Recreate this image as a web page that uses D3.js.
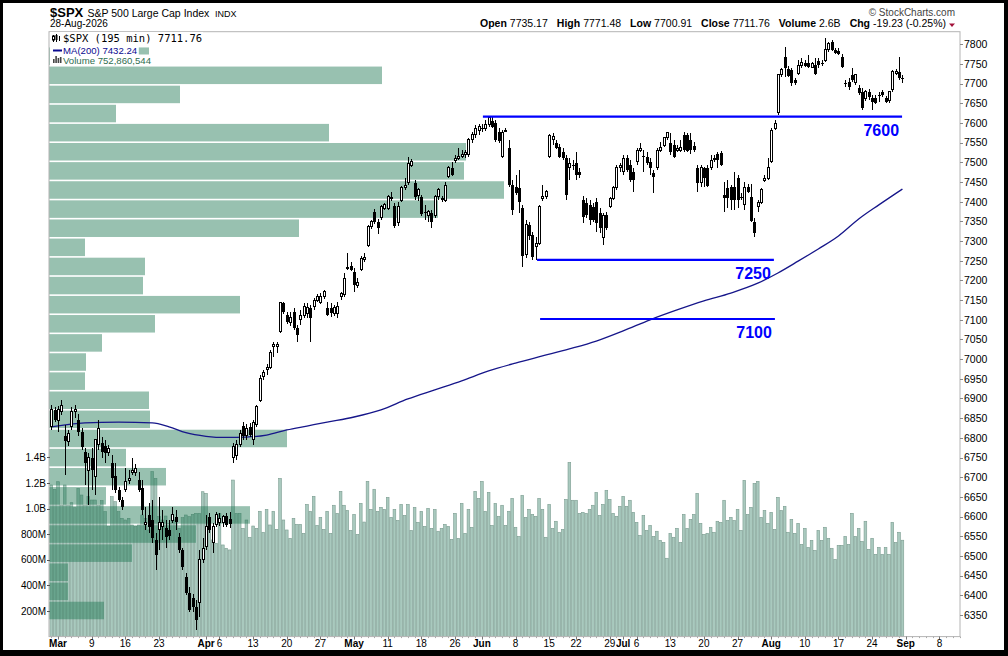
<!DOCTYPE html>
<html>
<head>
<meta charset="utf-8">
<script src="https://cdn.jsdelivr.net/npm/d3@7"></script>
<style>
  body { margin: 0; background: #000; }
  svg { display: block; }
  text { font-family: "Liberation Sans", Arial, sans-serif; }
</style>
</head>
<body>
<div id="chart"></div>
<script>
// ---- data ----
var firstDay = "2026-02-27";
var axisEndDay = "2026-09-11";
var holidays = ["2026-04-03", "2026-05-25", "2026-06-19", "2026-07-03", "2026-09-07"];
var barsPerDay = 2;   // 195 minute bars

// open, high, low, close per bar, first bar = 27-Feb
var ohlc = [
  [6828,6884,6820,6873],[6871,6879,6840,6845],[6845,6881,6815,6871],[6866,6896,6858,6881],
  [6805,6833,6706,6792],[6790,6820,6779,6812],[6828,6879,6820,6866],[6866,6884,6851,6871],
  [6845,6861,6805,6815],[6815,6825,6769,6777],[6764,6774,6680,6736],[6718,6762,6630,6749],
  [6749,6774,6668,6718],[6701,6797,6655,6795],[6782,6845,6769,6823],[6787,6802,6749,6764],
  [6779,6795,6736,6762],[6762,6782,6754,6772],[6736,6757,6668,6698],[6703,6736,6660,6668],
  [6668,6675,6637,6642],[6642,6650,6617,6624],[6670,6724,6663,6688],[6691,6719,6683,6696],
  [6711,6749,6706,6716],[6713,6734,6703,6721],[6693,6713,6663,6668],[6673,6693,6604,6617],
  [6579,6624,6566,6584],[6604,6635,6558,6574],[6591,6642,6533,6546],[6541,6558,6464,6503],
  [6566,6650,6515,6584],[6574,6617,6541,6584],[6571,6591,6520,6548],[6566,6591,6541,6551],
  [6591,6624,6584,6604],[6599,6617,6566,6586],[6548,6558,6508,6515],[6515,6520,6464,6472],
  [6447,6457,6401,6406],[6406,6421,6358,6363],[6393,6403,6358,6371],[6370,6388,6312,6337],
  [6381,6515,6345,6490],[6490,6546,6482,6520],[6523,6604,6515,6574],[6599,6609,6558,6566],
  [6533,6584,6508,6574],[6579,6612,6574,6604],[6586,6609,6576,6596],[6584,6604,6574,6599],
  [6602,6609,6574,6579],[6594,6612,6571,6581],[6751,6787,6736,6777],[6756,6795,6744,6782],
  [6782,6820,6777,6812],[6830,6840,6795,6805],[6807,6835,6795,6825],[6828,6838,6802,6807],
  [6795,6845,6782,6838],[6833,6884,6828,6879],[6896,6960,6891,6952],[6955,6973,6947,6965],
  [6973,6988,6960,6980],[6980,7023,6975,7018],[7031,7044,7006,7036],[7033,7044,7016,7038],
  [7069,7145,7067,7143],[7143,7145,7115,7120],[7112,7120,7089,7094],[7094,7120,7084,7107],
  [7120,7130,7074,7079],[7079,7087,7044,7061],[7100,7125,7087,7112],[7112,7143,7105,7133],
  [7117,7143,7105,7130],[7130,7138,7044,7105],[7133,7156,7125,7150],[7150,7166,7145,7160],
  [7145,7168,7140,7160],[7158,7176,7153,7171],[7130,7145,7110,7112],[7130,7143,7107,7117],
  [7117,7138,7110,7130],[7117,7145,7105,7133],[7158,7171,7150,7166],[7163,7219,7158,7206],
  [7232,7270,7227,7234],[7237,7247,7224,7227],[7222,7232,7171,7188],[7188,7206,7181,7196],
  [7229,7262,7224,7255],[7252,7270,7247,7257],[7290,7341,7285,7336],[7336,7354,7331,7349],
  [7374,7382,7343,7349],[7349,7356,7318,7333],[7359,7392,7354,7387],[7384,7397,7379,7392],
  [7384,7417,7379,7412],[7412,7425,7402,7407],[7389,7396,7333,7338],[7346,7399,7338,7389],
  [7404,7440,7399,7435],[7435,7460,7430,7442],[7448,7514,7442,7498],[7493,7508,7488,7501],
  [7448,7455,7404,7412],[7415,7435,7402,7430],[7412,7417,7363,7368],[7374,7392,7354,7371],
  [7366,7379,7349,7374],[7371,7379,7333,7349],[7366,7417,7359,7412],[7412,7435,7404,7430],
  [7409,7415,7399,7404],[7404,7450,7399,7442],[7465,7491,7460,7486],[7486,7501,7465,7468],
  [7506,7519,7498,7511],[7511,7536,7506,7516],[7516,7531,7511,7521],[7519,7531,7511,7524],
  [7519,7562,7514,7557],[7557,7577,7549,7570],[7570,7595,7562,7587],[7582,7597,7570,7592],
  [7587,7597,7577,7585],[7585,7608,7580,7597],[7595,7618,7590,7613],[7605,7615,7587,7590],
  [7600,7608,7552,7557],[7577,7587,7549,7554],[7514,7582,7511,7577],[7580,7587,7577,7582],
  [7536,7557,7437,7442],[7442,7455,7366,7379],[7437,7468,7417,7422],[7435,7481,7371,7399],
  [7384,7392,7235,7262],[7265,7354,7257,7341],[7341,7349,7303,7313],[7315,7323,7252,7260],
  [7285,7310,7252,7295],[7295,7392,7290,7387],[7407,7442,7402,7412],[7412,7430,7407,7427],
  [7514,7572,7511,7568],[7557,7575,7544,7565],[7549,7557,7534,7536],[7539,7547,7511,7514],
  [7526,7536,7506,7511],[7511,7519,7404,7417],[7486,7511,7455,7498],[7493,7506,7481,7491],
  [7498,7526,7455,7468],[7476,7486,7460,7468],[7404,7415,7346,7361],[7397,7409,7359,7366],
  [7392,7404,7341,7354],[7387,7397,7349,7354],[7399,7409,7323,7346],[7371,7384,7321,7333],
  [7310,7371,7290,7366],[7366,7374,7328,7333],[7389,7412,7384,7409],[7409,7440,7404,7437],
  [7435,7493,7430,7488],[7486,7498,7476,7493],[7476,7519,7468,7511],[7511,7519,7476,7481],
  [7493,7506,7450,7455],[7476,7486,7425,7455],[7501,7536,7493,7531],[7531,7549,7526,7536],
  [7516,7531,7476,7514],[7514,7526,7493,7498],[7501,7511,7468,7486],[7473,7481,7422,7463],
  [7488,7536,7481,7531],[7531,7552,7526,7539],[7544,7564,7539,7562],[7562,7577,7557,7575],
  [7549,7575,7519,7526],[7544,7557,7511,7514],[7531,7544,7526,7536],[7531,7557,7526,7539],
  [7570,7577,7526,7531],[7570,7575,7526,7529],[7557,7575,7521,7531],[7542,7552,7526,7531],
  [7486,7493,7425,7448],[7448,7493,7437,7486],[7486,7488,7437,7460],[7486,7493,7437,7440],
  [7486,7519,7481,7506],[7511,7519,7501,7506],[7521,7526,7486,7506],[7524,7529,7491,7493],
  [7417,7450,7374,7409],[7435,7455,7384,7409],[7437,7442,7379,7404],[7437,7476,7379,7404],
  [7460,7468,7384,7404],[7412,7422,7404,7409],[7392,7450,7379,7437],[7437,7445,7422,7425],
  [7412,7445,7349,7351],[7349,7359,7310,7321],[7389,7404,7374,7399],[7399,7435,7394,7432],
  [7455,7468,7450,7460],[7460,7511,7455,7486],[7501,7587,7498,7582],[7587,7608,7582,7600],
  [7626,7724,7620,7722],[7722,7740,7717,7735],[7768,7793,7717,7740],[7737,7745,7717,7719],
  [7735,7740,7694,7702],[7709,7714,7697,7702],[7727,7760,7722,7747],[7745,7765,7740,7755],
  [7752,7760,7742,7745],[7752,7773,7740,7742],[7742,7755,7740,7752],[7747,7765,7722,7724],
  [7757,7765,7740,7747],[7752,7760,7745,7750],[7760,7816,7755,7786],[7786,7806,7780,7801],
  [7806,7811,7783,7786],[7786,7791,7775,7778],[7783,7791,7773,7775],[7768,7775,7740,7742],
  [7702,7709,7692,7699],[7704,7714,7684,7692],[7722,7740,7704,7709],[7704,7724,7697,7722],
  [7689,7697,7671,7676],[7679,7689,7633,7638],[7661,7684,7656,7679],[7679,7686,7658,7666],
  [7664,7671,7633,7653],[7664,7671,7648,7651],[7671,7679,7653,7668],[7679,7684,7666,7671],
  [7664,7669,7651,7653],[7658,7681,7651,7679],[7684,7735,7679,7730],[7727,7737,7722,7732],
  [7730,7768,7709,7714],[7714,7722,7700.91,7711.76]
];

// volume per bar, millions of shares
var volumeM = [
  1184,1150,1210,1028,1184,1028,1046,1007,1158,1106,1028,1093,1067,1067,1028,1062,976,859,1093,1054,
  976,924,911,924,872,859,872,950,924,833,1289,1236,937,911,942,885,950,911,846,929,
  950,937,955,963,963,1132,1119,932,755,729,963,716,690,677,1223,963,
  963,846,911,776,864,846,979,815,994,872,979,838,1236,911,833,768,924,877,877,807,
  1033,979,1096,869,932,838,979,807,1026,963,1135,1026,986,830,955,799,1041,895,1213,994,
  1151,979,1010,994,1088,932,994,908,1033,947,1033,830,1010,893,979,861,1002,846,994,823,
  846,877,861,760,963,768,1041,807,994,854,1135,1080,1213,979,1127,869,1041,940,1026,869,
  979,1080,854,783,1104,932,994,955,940,1080,994,776,1033,846,901,815,838,1072,1361,1065,1065,
  963,971,963,994,1026,1127,947,1033,1143,1072,963,940,1018,1096,1018,1065,971,893,791,947,
  830,869,783,823,752,736,612,807,776,846,736,955,846,916,955,1119,885,799,807,854,
  815,901,893,1065,908,932,908,994,830,1221,955,1010,1197,1213,932,986,885,971,838,1088,
  986,1018,815,916,807,885,721,846,697,752,674,830,752,854,768,690,604,713,713,783,
  721,963,783,846,744,901,682,768,643,697,643,697,643,893,736,815,753
];

// MA(200) read at selected bars
var maBar   = [0, 10, 20, 30, 35, 40, 46, 52, 58, 64, 70, 76, 82, 90, 98, 106, 114, 122, 130, 138, 146, 154, 162, 170, 178, 186, 194, 202, 210, 216, 222, 228, 234, 240, 246, 253];
var maValue = [6828, 6838, 6840, 6838, 6828, 6813, 6804, 6801, 6802, 6807, 6820, 6830, 6840, 6853, 6871, 6899, 6922, 6945, 6970, 6990, 7008, 7026, 7046, 7072, 7100, 7125, 7148, 7168, 7193, 7219, 7249, 7280, 7313, 7356, 7392, 7432.24];

// volume by price, top zone first (billions of shares)
var vbpRange = [6335, 7792];
var vbpVolumeB = [10.0, 33.3, 13.1, 6.7, 28.0, 41.7, 41.5, 45.5, 38.9, 25.0, 3.6, 9.6, 9.4, 19.1, 10.6,
                  5.3, 3.7, 3.6, 10.0, 10.1, 23.8, 7.7, 11.7, 5.7, 20.1, 14.7, 8.3, 1.9, 1.9, 5.5];

var priceTicks = d3.range(6350, 7801, 50);
var volumeTicks = [200, 400, 600, 800, 1000, 1200, 1400];
var volumeTickLabels = ["200M", "400M", "600M", "800M", "1.0B", "1.2B", "1.4B"];
var dateTicks = [
  ["2026-03-02","Mar",true],["2026-03-09","9",false],["2026-03-16","16",false],["2026-03-23","23",false],
  ["2026-04-01","Apr",true],["2026-04-06","6",false],["2026-04-13","13",false],["2026-04-20","20",false],
  ["2026-04-27","27",false],["2026-05-04","May",true],["2026-05-11","11",false],["2026-05-18","18",false],
  ["2026-05-26","26",false],["2026-06-01","Jun",true],["2026-06-08","8",false],["2026-06-15","15",false],
  ["2026-06-22","22",false],["2026-06-29","29",false],["2026-07-01","Jul",true],["2026-07-06","6",false],
  ["2026-07-13","13",false],["2026-07-20","20",false],["2026-07-27","27",false],["2026-08-03","Aug",true],
  ["2026-08-10","10",false],["2026-08-17","17",false],["2026-08-24","24",false],["2026-08-31","Sep",true],
  ["2026-09-08","8",false]
];

// hand drawn levels: value, from bar, to bar
var levels = [
  {label: "7600", value: 7616, from: 128.3, to: 252.9},
  {label: "7250", value: 7252, from: 144.4, to: 214.8},
  {label: "7100", value: 7102, from: 145.3, to: 215.1}
];

var quote = [["Open","7735.17"],["High","7771.48"],["Low","7700.91"],["Close","7711.76"],["Volume","2.6B"],["Chg","-19.23 (-0.25%)"]];

// ---- chart ----
var W = 1008, H = 656;
var plot = {left: 49, right: 960, top: 31.7, bottom: 636.6};

var svg = d3.select("#chart").append("svg").attr("width", W).attr("height", H);
svg.append("rect").attr("width", W).attr("height", H).attr("fill", "#000");
svg.append("rect").attr("x", 3).attr("y", 3).attr("width", 1001).attr("height", 647).attr("fill", "#fff");

// trading calendar -> bar positions
var parse = d3.utcParse("%Y-%m-%d"), fmt = d3.utcFormat("%Y-%m-%d");
var days = d3.utcDays(parse(firstDay), d3.utcDay.offset(parse(axisEndDay), 1))
  .filter(function(d) { return d.getUTCDay() % 6 !== 0 && holidays.indexOf(fmt(d)) < 0; });
var dayIndex = new Map(days.map(function(d, k) { return [fmt(d), k]; }));

var x = d3.scaleLinear().domain([-0.68, 270.12]).range([plot.left, plot.right]);
var y = d3.scaleLinear().domain([6295, 7832]).range([plot.bottom, plot.top]);
var yv = d3.scaleLinear().domain([0, 1400]).range([plot.bottom, 457.4]);
var xv = d3.scaleLinear().domain([0, 50]).range([plot.left, plot.left + 500]);

svg.append("clipPath").attr("id", "clip").append("rect")
  .attr("x", plot.left).attr("y", plot.top)
  .attr("width", plot.right - plot.left).attr("height", plot.bottom - plot.top);

var g = svg.append("g").attr("clip-path", "url(#clip)");

// volume bars
g.append("g").selectAll("rect").data(volumeM).join("rect")
  .attr("x", function(d, j) { return x(j) - 1.35; })
  .attr("width", 2.7)
  .attr("y", function(d) { return yv(d); })
  .attr("height", function(d) { return plot.bottom - yv(d); })
  .attr("fill", "#a9c9be")
  .attr("stroke", "#7b9c90")
  .attr("stroke-width", 0.6);

// volume by price
var zone = (vbpRange[1] - vbpRange[0]) / vbpVolumeB.length;
g.append("g").selectAll("rect").data(vbpVolumeB).join("rect")
  .attr("x", plot.left)
  .attr("y", function(d, k) { return y(vbpRange[1] - k * zone); })
  .attr("width", function(d) { return xv(d) - plot.left; })
  .attr("height", function(d, k) { return y(vbpRange[1] - (k + 1) * zone) - y(vbpRange[1] - k * zone) - 1.6; })
  .attr("fill", "rgba(31,120,82,0.46)");

// MA(200)
var ma = d3.zip(maBar, maValue);
g.append("path").datum(ma)
  .attr("d", d3.line().x(function(d) { return x(d[0]); }).y(function(d) { return y(d[1]); }).curve(d3.curveMonotoneX))
  .attr("fill", "none").attr("stroke", "#16168a").attr("stroke-width", 1.3);

// candles
var cg = g.append("g").attr("shape-rendering", "crispEdges");
cg.selectAll("line").data(ohlc).join("line")
  .attr("x1", function(d, j) { return Math.round(x(j)) + 0.5; })
  .attr("x2", function(d, j) { return Math.round(x(j)) + 0.5; })
  .attr("y1", function(d) { return y(d[1]); })
  .attr("y2", function(d) { return y(d[2]); })
  .attr("stroke", "#000").attr("stroke-width", 1);
cg.selectAll("rect").data(ohlc).join("rect")
  .attr("x", function(d, j) { return d[3] >= d[0] ? Math.round(x(j)) - 0.5 : Math.round(x(j)) - 1; })
  .attr("width", function(d) { return d[3] >= d[0] ? 2 : 3; })
  .attr("y", function(d) { return y(Math.max(d[0], d[3])); })
  .attr("height", function(d) { return Math.max(1, y(Math.min(d[0], d[3])) - y(Math.max(d[0], d[3]))); })
  .attr("fill", function(d) { return d[3] >= d[0] ? "#fff" : "#000"; })
  .attr("stroke", function(d) { return d[3] >= d[0] ? "#000" : "none"; })
  .attr("stroke-width", 1);

// level lines
var lg = svg.append("g");
lg.selectAll("line").data(levels).join("line")
  .attr("x1", function(d) { return x(d.from); })
  .attr("x2", function(d) { return x(d.to); })
  .attr("y1", function(d) { return y(d.value); })
  .attr("y2", function(d) { return y(d.value); })
  .attr("stroke", "#0000ff").attr("stroke-width", 2.2);
lg.selectAll("text").data(levels).join("text")
  .attr("x", function(d) { return x(d.to) - 3; })
  .attr("y", function(d) { return y(d.value) + 19; })
  .attr("text-anchor", "end")
  .attr("font-size", "16px").attr("font-weight", "bold").attr("fill", "#0000ff")
  .text(function(d) { return d.label; });

// plot frame
svg.append("rect").attr("x", plot.left).attr("y", plot.top)
  .attr("width", plot.right - plot.left).attr("height", plot.bottom - plot.top)
  .attr("fill", "none").attr("stroke", "#b4b4b4").attr("stroke-width", 1);

// legend
var legend = svg.append("g");
function legendLine(txt, yb, size, color, family) {
  var t = legend.append("text").attr("x", 63).attr("y", yb)
    .attr("font-size", size).attr("fill", color).text(txt);
  if (family) t.style("font-family", family);
  var b = t.node().getBBox();
  legend.insert("rect", "text").attr("x", 50).attr("y", b.y).attr("width", b.x + b.width - 49).attr("height", b.height).attr("fill", "#fff");
}
legendLine("$SPX (195 min) 7711.76", 42, "10.5px", "#000", "'DejaVu Sans Mono', monospace");
legendLine("MA(200) 7432.24", 54, "9.6px", "#0a0a90");
legendLine("Volume 752,860,544", 63.5, "9.6px", "#2e6e50");
// icons
legend.append("path").attr("d", "M53.5,35v7M56.5,34v8M59.5,36v5").attr("stroke", "#000").attr("stroke-width", 1);
legend.append("rect").attr("x", 52.5).attr("y", 36).attr("width", 2).attr("height", 4).attr("fill", "#fff").attr("stroke", "#000");
legend.append("rect").attr("x", 55.5).attr("y", 35).attr("width", 2).attr("height", 5).attr("fill", "#000");
legend.append("line").attr("x1", 53).attr("x2", 62).attr("y1", 50.5).attr("y2", 50.5).attr("stroke", "#0a0a90").attr("stroke-width", 2);
legend.selectAll("rect.vi").data([4, 7, 5, 6]).join("rect").attr("class", "vi")
  .attr("x", function(d, k) { return 53 + k * 2.3; }).attr("width", 1.6)
  .attr("y", function(d) { return 63 - d; }).attr("height", function(d) { return d; })
  .attr("fill", "#444");

// header
svg.append("text").attr("x", 50).attr("y", 16.7).attr("font-size", "13px").attr("font-weight", "bold").text("$SPX");
svg.append("text").attr("x", 87.5).attr("y", 16.7).attr("font-size", "10.5px").text("S&P 500 Large Cap Index");
svg.append("text").attr("x", 215).attr("y", 16.7).attr("font-size", "9px").text("INDX");
svg.append("text").attr("x", 50).attr("y", 27.3).attr("font-size", "10px").text("28-Aug-2026");
svg.append("text").attr("x", 955).attr("y", 16).attr("text-anchor", "end").attr("font-size", "10px").attr("fill", "#444").text("\u00a9 StockCharts.com");

var qt = svg.append("text").attr("x", 946).attr("y", 27.3).attr("text-anchor", "end").attr("font-size", "10.5px");
quote.forEach(function(q, k) {
  qt.append("tspan").attr("font-weight", "bold").attr("dx", k ? 9 : 0).text(q[0]);
  qt.append("tspan").attr("dx", 3).text(q[1]);
});
svg.append("path").attr("d", "M949,23.5L955,23.5L952,27Z").attr("fill", "#a3123a");

// right price axis
var ra = svg.append("g");
ra.selectAll("line").data(priceTicks).join("line")
  .attr("x1", plot.right).attr("x2", plot.right + 3)
  .attr("y1", function(d) { return Math.round(y(d)) + 0.5; }).attr("y2", function(d) { return Math.round(y(d)) + 0.5; })
  .attr("stroke", "#888");
ra.selectAll("text").data(priceTicks).join("text")
  .attr("x", plot.right + 4).attr("y", function(d) { return y(d) + 3.8; })
  .attr("font-size", "10.5px").text(function(d) { return d; });

// left volume axis
var la = svg.append("g");
la.selectAll("line").data(volumeTicks).join("line")
  .attr("x1", plot.left - 2).attr("x2", plot.left + 1)
  .attr("y1", function(d) { return Math.round(yv(d)) + 0.5; }).attr("y2", function(d) { return Math.round(yv(d)) + 0.5; })
  .attr("stroke", "#555");
la.selectAll("text").data(volumeTicks).join("text")
  .attr("x", plot.left - 3).attr("y", function(d) { return yv(d) + 3.6; })
  .attr("text-anchor", "end").attr("font-size", "10px")
  .text(function(d, k) { return volumeTickLabels[k]; });

// bottom date axis
var ba = svg.append("g");
ba.selectAll("line.day").data(days).join("line").attr("class", "day")
  .attr("x1", function(d, k) { return Math.round(x(k * barsPerDay)) + 0.5; })
  .attr("x2", function(d, k) { return Math.round(x(k * barsPerDay)) + 0.5; })
  .attr("y1", plot.bottom).attr("y2", plot.bottom + 1.5).attr("stroke", "#aaa");
ba.selectAll("line.wk").data(dateTicks).join("line").attr("class", "wk")
  .attr("x1", function(d) { return Math.round(x(dayIndex.get(d[0]) * barsPerDay)) + 0.5; })
  .attr("x2", function(d) { return Math.round(x(dayIndex.get(d[0]) * barsPerDay)) + 0.5; })
  .attr("y1", plot.bottom).attr("y2", plot.bottom + 3).attr("stroke", "#777");
ba.selectAll("text").data(dateTicks).join("text")
  .attr("x", function(d) { return x(dayIndex.get(d[0]) * barsPerDay); })
  .attr("y", 646.5).attr("text-anchor", "middle")
  .attr("font-size", "10px").attr("font-weight", function(d) { return d[2] ? "bold" : "normal"; })
  .text(function(d) { return d[1]; });
</script>
</body>
</html>
